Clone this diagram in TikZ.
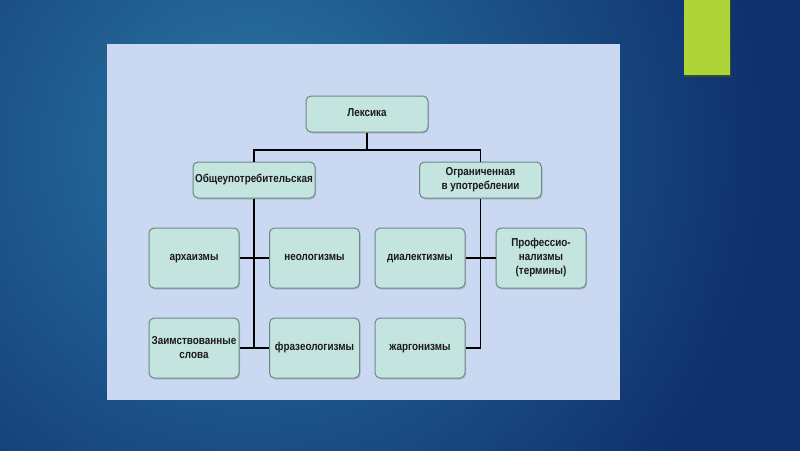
\documentclass[tikz,border=0pt]{standalone}
\usepackage{fontspec}
\setmainfont{Liberation Sans}[FakeStretch=0.86]
\usetikzlibrary{shadows}
\definecolor{bgdark}{HTML}{0F306C}
\definecolor{bglight}{HTML}{2A77A4}
\definecolor{panel}{HTML}{CAD8F1}
\definecolor{boxfill}{HTML}{C4E4E0}
\definecolor{boxline}{HTML}{6A8888}
\definecolor{accent}{HTML}{AED43A}
\definecolor{txt}{HTML}{1A1A1A}
\tikzset{
  box/.style={draw=boxline, line width=1pt, fill=boxfill, rounded corners=5pt,
    align=center, font=\bfseries\fontsize{11.5}{14}\selectfont, text=txt, inner sep=2pt,
    drop shadow={shadow xshift=1pt, shadow yshift=-1.5pt, opacity=0.35, fill=gray}},
  wide/.style={box, minimum width=122pt, minimum height=36pt},
  leaf/.style={box, minimum width=90pt, minimum height=60pt},
  oneline/.style={text height=8.2pt, text depth=2.6pt},
  link/.style={draw=black, line width=1.5pt}
}
\begin{document}
\begin{tikzpicture}[x=1pt,y=-1pt]
\useasboundingbox (0,0) rectangle (800,450);
% background
\fill[bgdark] (-10,-10) rectangle (810,460);
\begin{scope}
\clip (-10,-10) rectangle (810,460);
\shade[inner color=bglight, outer color=bgdark] (250,150) circle (520);
\end{scope}
% accent bar
\fill[black!60!accent, opacity=0.7] (684,-5) rectangle (731,76.5);
\fill[accent] (684,-5) rectangle (730,75);
% panel
\fill[panel] (107,44) rectangle (620,400);
% nodes
\node[wide, oneline] (lex) at (367,114) {Лексика};
\node[wide, oneline] (obs) at (254,180) {Общеупотребительская};
\node[wide] (ogr) at (480.5,180) {Ограниченная\\в употреблении};
\node[leaf, oneline] (arch) at (194,258) {архаизмы};
\node[leaf, oneline] (neo) at (314.5,258) {неологизмы};
\node[leaf, oneline] (dial) at (420,258) {диалектизмы};
\node[leaf] (prof) at (541,258) {Профессио-\\нализмы\\(термины)};
\node[leaf] (zaim) at (194,348) {Заимствованные\\слова};
\node[leaf, oneline] (fraz) at (314.5,348) {фразеологизмы};
\node[leaf, oneline] (zharg) at (420,348) {жаргонизмы};
\coordinate (bar) at (367,150);
% connectors
\draw[link] (lex.south) -- (bar);
\draw[link] (bar) -| (obs.north);
\draw[link] (bar) -| (ogr.north);
\draw[link] (obs.south) -- (obs.south |- zaim.east);
\draw[link] (arch.east) -- (neo.west);
\draw[link] (zaim.east) -- (fraz.west);
\draw[link] (ogr.south) -- (ogr.south |- zharg.east) -- (zharg.east);
\draw[link] (dial.east) -- (prof.west);
\end{tikzpicture}
\end{document}
